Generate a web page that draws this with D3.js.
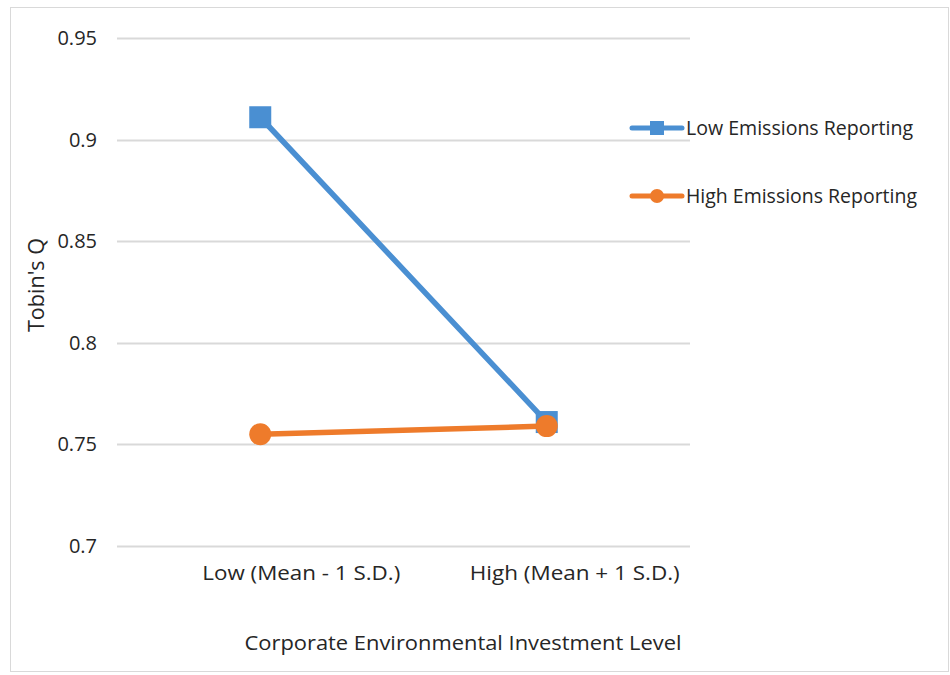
<!DOCTYPE html>
<html>
<head>
<meta charset="utf-8">
<script src="https://cdn.jsdelivr.net/npm/d3@7/dist/d3.min.js"></script>
<style>
  html, body { margin: 0; padding: 0; background: #fff; }
  svg text { font-family: "Open Sans", "DejaVu Sans", sans-serif; fill: #262626; }
</style>
</head>
<body>
<svg id="chart" width="950" height="675"></svg>
<script>
// Interaction plot: Tobin's Q by environmental investment level and emissions reporting
const categories = ["Low (Mean - 1 S.D.)", "High (Mean + 1 S.D.)"];
const seriesNames = ["Low Emissions Reporting", "High Emissions Reporting"];
const lowEmissions = [0.911, 0.761];
const highEmissions = [0.755, 0.759];
const yTicks = [0.7, 0.75, 0.8, 0.85, 0.9, 0.95];
const yTickLabels = ["0.7", "0.75", "0.8", "0.85", "0.9", "0.95"];
const xTitle = "Corporate Environmental Investment Level";
const yTitle = "Tobin's Q";

const colors = ["#4a8fd2", "#ee7b2b"];
const svg = d3.select("#chart");

// outer chart frame
svg.append("rect")
  .attr("x", 10.5).attr("y", 7.5).attr("width", 938).attr("height", 664)
  .attr("fill", "#fff").attr("stroke", "#d9d9d9").attr("stroke-width", 1);

const plot = { left: 117, right: 690, top: 38, bottom: 546 };

const x = d3.scaleBand().domain(categories).range([plot.left, plot.right]);
const y = d3.scaleLinear().domain([0.7, 0.95]).range([plot.bottom, plot.top]);

// horizontal gridlines
svg.append("g").selectAll("line").data(yTicks).join("line")
  .attr("x1", plot.left).attr("x2", plot.right)
  .attr("y1", d => Math.round(y(d)) + 0.5).attr("y2", d => Math.round(y(d)) + 0.5)
  .attr("stroke", "#d9d9d9").attr("stroke-width", 2);

// y axis labels
const yAxis = d3.axisLeft(y).tickValues(yTicks)
  .tickFormat((d, i) => yTickLabels[i]).tickSize(0).tickPadding(20);
const yg = svg.append("g").attr("transform", `translate(${plot.left},0)`).call(yAxis);
yg.select(".domain").remove();
yg.selectAll("text").style("font-family", "\"Open Sans\", sans-serif")
  .attr("font-size", 20).attr("fill", "#262626");

// x axis category labels
const xAxis = d3.axisBottom(x).tickSize(0).tickPadding(20);
const xg = svg.append("g").attr("transform", `translate(0,${plot.bottom})`).call(xAxis);
xg.select(".domain").remove();
const xLabelWidths = [198, 210];
xg.selectAll("text").style("font-family", "\"Open Sans\", sans-serif")
  .attr("font-size", 19.5).attr("fill", "#262626")
  .attr("dx", (d, i) => i === 0 ? 41 : 28)
  .attr("textLength", (d, i) => xLabelWidths[i]).attr("lengthAdjust", "spacingAndGlyphs");

// axis titles
svg.append("text").attr("x", 463).attr("y", 650).attr("text-anchor", "middle")
  .attr("font-size", 20).attr("textLength", 437).attr("lengthAdjust", "spacingAndGlyphs")
  .text(xTitle);
svg.append("text").attr("transform", "translate(44,285) rotate(-90)")
  .attr("text-anchor", "middle").attr("font-size", 21)
  .attr("textLength", 94).attr("lengthAdjust", "spacingAndGlyphs").text(yTitle);

// series
const cx = c => x(c) + x.bandwidth() / 2;
const series = [
  { name: seriesNames[0], values: lowEmissions, color: colors[0], marker: "square" },
  { name: seriesNames[1], values: highEmissions, color: colors[1], marker: "circle" }
];
const line = d3.line().x((d, i) => cx(categories[i])).y(d => y(d));

function drawMarker(g, px, py, s) {
  if (s.marker === "square") {
    g.append("rect").attr("x", px - 11).attr("y", py - 11).attr("width", 22).attr("height", 22)
      .attr("fill", s.color);
  } else {
    g.append("circle").attr("cx", px).attr("cy", py).attr("r", 11).attr("fill", s.color);
  }
}

series.forEach(s => {
  const g = svg.append("g");
  g.append("path").datum(s.values).attr("d", line)
    .attr("fill", "none").attr("stroke", s.color).attr("stroke-width", 5.5)
    .attr("stroke-linecap", "round");
  s.values.forEach((v, i) => drawMarker(g, cx(categories[i]), y(v), s));
});

// legend
const legendY = [128, 196];
const legendWidths = [227, 231];
series.forEach((s, i) => {
  const g = svg.append("g");
  g.append("line").attr("x1", 632).attr("x2", 682).attr("y1", legendY[i]).attr("y2", legendY[i])
    .attr("stroke", s.color).attr("stroke-width", 5).attr("stroke-linecap", "round");
  if (s.marker === "square") {
    g.append("rect").attr("x", 650).attr("y", legendY[i] - 7).attr("width", 14).attr("height", 14).attr("fill", s.color);
  } else {
    g.append("circle").attr("cx", 657).attr("cy", legendY[i]).attr("r", 7).attr("fill", s.color);
  }
  g.append("text").attr("x", 686).attr("y", legendY[i]).attr("dy", "0.35em")
    .attr("font-size", 20).attr("textLength", legendWidths[i]).attr("lengthAdjust", "spacingAndGlyphs")
    .text(s.name);
});
</script>
</body>
</html>
